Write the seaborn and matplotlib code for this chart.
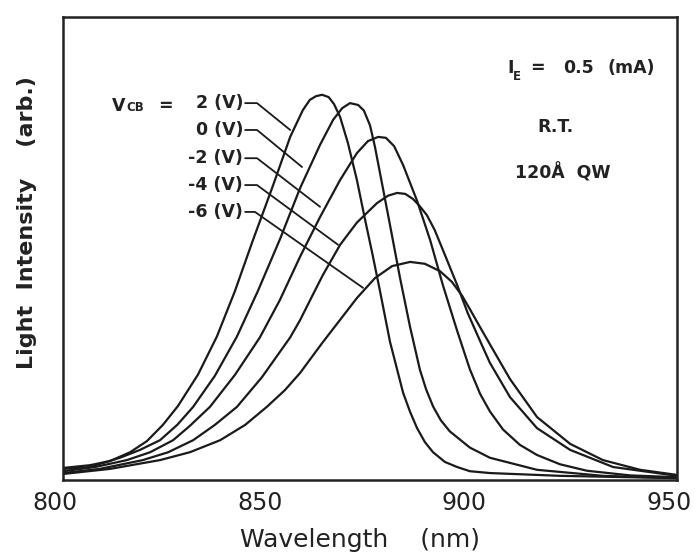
import numpy as np
import pandas as pd
import matplotlib
matplotlib.use("Agg")
import matplotlib.pyplot as plt
from matplotlib.transforms import ScaledTranslation
import seaborn as sns

# ---- data (wavelength nm, intensity arb. 0-100) ----
bias_labels = ["2 (V)", "0 (V)", "-2 (V)", "-4 (V)", "-6 (V)"]

wl_p2 = [800.0, 806.6, 811.5, 816.4, 820.5, 824.4, 828.1, 833.0, 837.6, 842.0,
         846.4, 851.1, 855.5, 858.6, 860.3, 861.8, 863.3, 864.9, 866.2, 867.7,
         869.6, 871.8, 873.8, 875.5, 877.4, 879.9, 883.1, 884.8, 886.5, 888.4,
         890.4, 893.3, 896.3, 899.4, 904.3, 921.4, 950.0]
in_p2 = [2.6, 3.2, 4.1, 6.0, 8.4, 11.9, 16.0, 22.8, 31.0, 40.8,
         51.8, 63.1, 74.1, 79.9, 82.1, 82.9, 83.2, 82.7, 81.2, 78.4,
         72.8, 64.8, 56.2, 49.2, 41.0, 29.8, 18.8, 14.7, 11.2, 8.2,
         6.0, 3.9, 2.8, 1.9, 1.5, 0.9, 0.4]

wl_0 = [800.0, 806.6, 813.9, 818.8, 823.7, 827.9, 831.8, 837.1, 842.5, 847.6,
        853.0, 857.9, 862.8, 866.0, 868.2, 870.1, 872.1, 873.5, 875.0, 876.2,
        877.4, 879.9, 882.3, 884.8, 887.2, 888.7, 890.4, 892.3, 894.5, 899.4,
        904.3, 915.8, 931.9, 950.0]
in_0 = [2.4, 2.8, 4.8, 6.5, 8.6, 11.9, 15.8, 22.5, 31.0, 40.8,
        52.0, 63.0, 72.4, 77.8, 80.3, 81.4, 81.0, 79.8, 76.6, 72.0,
        66.5, 55.0, 43.8, 33.0, 23.8, 19.6, 15.9, 12.9, 10.5, 7.0,
        4.8, 2.2, 0.9, 0.4]

wl_m2 = [800.0, 807.8, 815.6, 821.3, 826.9, 831.0, 835.9, 842.0, 848.1, 853.0,
         857.9, 862.8, 867.7, 871.8, 874.5, 877.0, 878.9, 880.9, 883.1, 886.5,
         889.7, 892.8, 896.3, 899.4, 901.9, 904.3, 907.5, 911.6, 915.8, 921.4,
         928.0, 938.5, 950.0]
in_m2 = [1.9, 2.8, 4.3, 6.0, 8.6, 11.7, 15.8, 22.7, 30.8, 38.9,
         48.2, 56.8, 64.8, 70.6, 73.2, 74.1, 73.9, 72.1, 68.0, 60.3,
         51.8, 42.1, 32.2, 23.9, 18.6, 14.8, 10.9, 7.6, 5.4, 3.4,
         2.0, 1.0, 0.6]

wl_m4 = [800.0, 809.0, 819.5, 825.7, 831.8, 837.1, 842.5, 848.6, 855.5, 857.9,
         860.8, 863.5, 867.7, 871.8, 876.7, 879.4, 881.6, 883.6, 885.5, 887.0,
         888.9, 890.8, 892.8, 896.3, 898.9, 901.9, 904.3, 909.2, 915.8, 923.9,
         934.4, 950.0]
in_m4 = [1.5, 2.4, 4.3, 6.0, 8.6, 11.9, 15.8, 22.2, 30.8, 34.5,
         39.6, 44.3, 50.8, 55.6, 59.8, 61.4, 62.0, 61.8, 60.7, 59.3,
         57.2, 54.0, 49.7, 42.1, 36.0, 30.0, 25.3, 17.9, 11.2, 6.5,
         2.8, 0.9]

wl_m6 = [800.0, 811.5, 823.7, 831.0, 838.4, 844.5, 849.8, 854.2, 857.9, 863.5,
         867.7, 871.8, 876.2, 880.4, 884.8, 888.4, 892.1, 895.0, 897.5, 899.4,
         901.9, 904.3, 909.2, 915.8, 923.9, 931.9, 941.0, 950.0]
in_m6 = [1.3, 2.4, 4.3, 6.0, 8.6, 11.9, 15.8, 19.4, 23.1, 29.8,
         34.6, 39.3, 43.6, 46.2, 47.1, 46.7, 45.1, 42.8, 39.8, 36.9,
         33.0, 29.3, 21.8, 13.6, 7.8, 4.3, 2.2, 1.1]

# bias label rows and their leader lines (start, elbow, end)
label_y = [81.4, 75.6, 69.5, 63.7, 57.9]
leader_wl = [[844.5, 847.4, 855.5], [844.5, 847.4, 858.4], [844.5, 847.4, 862.8],
             [844.5, 847.4, 867.2], [844.5, 846.9, 873.3]]
leader_in = [[81.4, 81.4, 75.6], [75.6, 75.6, 67.6], [69.5, 69.5, 59.0],
             [63.7, 63.7, 50.8], [57.9, 57.9, 41.5]]

x_ticks = [800, 850, 900, 950]
x_ticklabels = ["800", "850", "900", "950"]

# ---- build long-form table ----
frames = []
for lab, w, v in zip(bias_labels, [wl_p2, wl_0, wl_m2, wl_m4, wl_m6],
                     [in_p2, in_0, in_m2, in_m4, in_m6]):
    frames.append(pd.DataFrame({"wl": w, "I": v, "bias": lab}))
df = pd.concat(frames, ignore_index=True)

sns.set_theme(style="white")
plt.rcParams["font.family"] = ["DejaVu Sans"]

fig = plt.figure(figsize=(6.96, 5.60), dpi=100)
ax = fig.add_axes([63 / 696, 1 - 480 / 560, (677 - 63) / 696, (480 - 17) / 560])

sns.lineplot(data=df, x="wl", y="I", hue="bias", units="bias", estimator=None,
             sort=False, palette=["#1a1a1a"] * 5, linewidth=1.6, legend=False, ax=ax)
for ln in ax.lines:
    ln.set_solid_joinstyle("round")

ax.set_xlim(800, 950)
ax.set_ylim(0, 100)
ax.set_xticks(x_ticks)
ax.set_xticklabels(x_ticklabels)
ax.set_yticks([])
ax.tick_params(axis="x", length=0, pad=8, labelsize=17, colors="#222222")
shift = ScaledTranslation(-8 / 100, 0, fig.dpi_scale_trans)
for lbl in ax.get_xticklabels():
    lbl.set_transform(lbl.get_transform() + shift)
for s in ax.spines.values():
    s.set_linewidth(1.8)
    s.set_color("#222222")

ax.set_xlabel("Wavelength    (nm)", fontsize=18, color="#222222")
ax.xaxis.set_label_coords(0.484, -0.104)
ax.set_ylabel("Light  Intensity    (arb.)", fontsize=16, fontweight="bold",
              color="#222222")
ax.yaxis.set_label_coords(-0.042, 0.557)

tfont = dict(family="DejaVu Sans", fontweight="bold", color="#222222")

# bias labels and leader lines
for lab, ly, lw_, li_ in zip(bias_labels, label_y, leader_wl, leader_in):
    ax.text(844.0, ly, lab, ha="right", va="center", fontsize=12.5, **tfont)
    ax.plot(lw_, li_, color="#1a1a1a", linewidth=1.3)

ax.text(812.0, 79.8, "V", ha="left", va="baseline", fontsize=12.5, **tfont)
ax.text(815.6, 79.8, "CB", ha="left", va="baseline", fontsize=8.5, **tfont)
ax.text(823.2, 79.8, "=", ha="left", va="baseline", fontsize=12.5, **tfont)

# right-hand annotations
ax.text(908.5, 87.9, "I", ha="left", va="baseline", fontsize=12.5, **tfont)
ax.text(910.0, 86.4, "E", ha="left", va="baseline", fontsize=8.5, **tfont)
ax.text(914.1, 87.9, "=", ha="left", va="baseline", fontsize=12.5, **tfont)
ax.text(922.2, 87.9, "0.5", ha="left", va="baseline", fontsize=12.5, **tfont)
ax.text(932.9, 87.9, "(mA)", ha="left", va="baseline", fontsize=12.5, **tfont)
ax.text(920.4, 76.2, "R.T.", ha="center", va="center", fontsize=12.5, **tfont)
ax.text(922.2, 66.3, "120Å  QW", ha="center", va="center", fontsize=12.5, **tfont)

fig.savefig("out.png", dpi=100)
